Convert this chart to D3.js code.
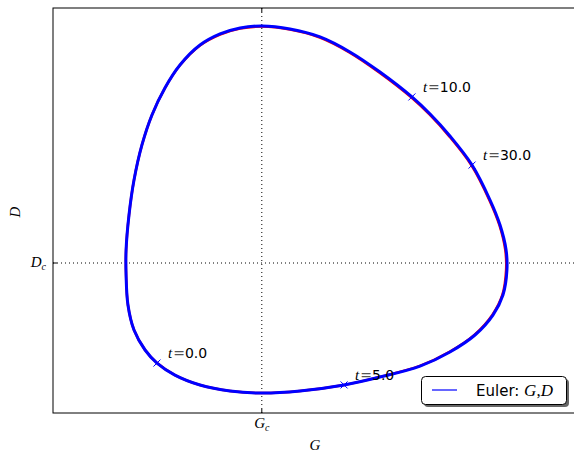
<!DOCTYPE html>
<html><head><meta charset="utf-8">
<script src="https://cdn.jsdelivr.net/npm/d3@7"></script>
<style>body{margin:0;background:#fff}svg{display:block}</style>
</head><body>
<svg id="c" width="574" height="454"></svg>
<script>
// ---- data (G, D in arbitrary units; Gc = Dc = 1) ----
const Gc = 1.0, Dc = 1.0;
const eulerG = [1.001,0.896,0.800,0.704,0.608,0.536,0.474,0.426,0.388,0.364,0.350,0.350,0.359,0.388,0.441,0.498,0.584,0.704,0.848,1.001,1.183,1.394,1.566,1.758,1.901,2.021,2.107,2.155,2.174,2.170,2.141,2.093,2.007,1.901,1.806,1.719,1.566,1.422,1.279,1.135];
const eulerD = [2.580,2.567,2.527,2.453,2.320,2.167,1.987,1.787,1.553,1.320,1.087,0.920,0.720,0.553,0.420,0.333,0.253,0.187,0.147,0.133,0.147,0.187,0.240,0.313,0.407,0.520,0.653,0.787,0.953,1.087,1.253,1.420,1.653,1.847,1.993,2.107,2.273,2.407,2.507,2.560];
const exactG = [1.001,0.896,0.800,0.704,0.608,0.536,0.474,0.426,0.388,0.364,0.350,0.350,0.359,0.388,0.441,0.498,0.584,0.704,0.848,1.001,1.183,1.394,1.566,1.757,1.899,2.018,2.104,2.152,2.170,2.166,2.138,2.090,2.004,1.898,1.803,1.717,1.564,1.421,1.278,1.135];
const exactD = [2.576,2.563,2.523,2.450,2.318,2.166,1.987,1.787,1.553,1.320,1.087,0.920,0.720,0.553,0.420,0.333,0.253,0.187,0.147,0.133,0.147,0.187,0.241,0.314,0.408,0.521,0.654,0.787,0.953,1.087,1.252,1.419,1.651,1.844,1.990,2.103,2.269,2.403,2.503,2.556];
const markT = ["0.0","5.0","10.0","30.0"];
const markG = [0.498,1.394,1.719,2.007];
const markD = [0.333,0.187,2.107,1.653];

const svg = d3.select("#c");
const L=53, T=8, R=580, B=413;
const x = d3.scaleLinear().domain([0,2.5]).range([L,L+2.5*208.8]);
const y = d3.scaleLinear().domain([0,2.7]).range([B,T]);

svg.append("defs").append("clipPath").attr("id","pc").append("rect")
  .attr("x",L).attr("y",T).attr("width",R-L).attr("height",B-T);
const g = svg.append("g").attr("clip-path","url(#pc)");

// dotted reference lines
g.append("line").attr("x1",x(Gc)).attr("x2",x(Gc)).attr("y1",T).attr("y2",B)
 .attr("stroke","#000").attr("stroke-width",1).attr("stroke-dasharray","1,3");
g.append("line").attr("x1",L).attr("x2",R).attr("y1",y(Dc)).attr("y2",y(Dc))
 .attr("stroke","#000").attr("stroke-width",1).attr("stroke-dasharray","1,3");

const line = d3.line().x(d=>x(d[0])).y(d=>y(d[1])).curve(d3.curveCatmullRomClosed);
g.append("path").datum(exactG.map((v,i)=>[v,exactD[i]])).attr("d",line)
 .attr("fill","none").attr("stroke","#ff0000").attr("stroke-width",2.5);
g.append("path").datum(eulerG.map((v,i)=>[v,eulerD[i]])).attr("d",line)
 .attr("fill","none").attr("stroke","#0000ff").attr("stroke-width",3);

// markers and labels
markT.forEach((t,i)=>{
  const px=x(markG[i]), py=y(markD[i]), s=3.5;
  g.append("path").attr("d",`M${px-s},${py-s}L${px+s},${py+s}M${px-s},${py+s}L${px+s},${py-s}`)
   .attr("stroke","#0000ff").attr("stroke-width",1);
  const tx = svg.append("text").attr("x",px+11).attr("y",py-5).attr("font-size",14);
  tx.append("tspan").attr("font-family","Liberation Serif").attr("font-style","italic").attr("font-size",15).text("t");
  tx.append("tspan").attr("font-family","DejaVu Sans").attr("fill","#555").attr("dx",1).text("=");
  tx.append("tspan").attr("font-family","DejaVu Sans").text(t);
});

// frame
svg.append("rect").attr("x",L).attr("y",T).attr("width",R-L).attr("height",B-T)
 .attr("fill","none").attr("stroke","#000").attr("stroke-width",1);

// ticks (inward)
const tk = svg.append("g").attr("stroke","#000").attr("stroke-width",1);
tk.append("line").attr("x1",x(Gc)).attr("x2",x(Gc)).attr("y1",B).attr("y2",B-4);
tk.append("line").attr("x1",x(Gc)).attr("x2",x(Gc)).attr("y1",T).attr("y2",T+4);
tk.append("line").attr("x1",L).attr("x2",L+4).attr("y1",y(Dc)).attr("y2",y(Dc));

// tick labels
const gcl = svg.append("text").attr("x",x(Gc)).attr("y",428).attr("text-anchor","middle")
  .attr("font-family","Liberation Serif").attr("font-style","italic").attr("font-size",15);
gcl.append("tspan").text("G");
gcl.append("tspan").attr("font-size",10).attr("dy",3).text("c");
const dcl = svg.append("text").attr("x",46).attr("y",y(Dc)+4).attr("text-anchor","end")
  .attr("font-family","Liberation Serif").attr("font-style","italic").attr("font-size",15);
dcl.append("tspan").text("D");
dcl.append("tspan").attr("font-size",10).attr("dy",3).text("c");

// axis labels
svg.append("text").attr("x",315).attr("y",450).attr("text-anchor","middle")
 .attr("font-family","Liberation Serif").attr("font-style","italic").attr("font-size",15).text("G");
svg.append("text").attr("transform","translate(20,212) rotate(-90)").attr("text-anchor","middle")
 .attr("font-family","Liberation Serif").attr("font-style","italic").attr("font-size",15).text("D");

// legend
const lg = svg.append("g");
lg.append("rect").attr("x",424).attr("y",379).attr("width",145).attr("height",28).attr("rx",4)
  .attr("fill","#000").attr("opacity",0.6);
lg.append("rect").attr("x",421.5).attr("y",376.5).attr("width",145).attr("height",28).attr("rx",4)
  .attr("fill","#fff").attr("stroke","#000").attr("stroke-width",1);
lg.append("line").attr("x1",432).attr("x2",457).attr("y1",390).attr("y2",390)
  .attr("stroke","#0000ff").attr("stroke-width",1.2);
const lt = lg.append("text").attr("x",476).attr("y",396).attr("font-size",15);
lt.append("tspan").attr("font-family","DejaVu Sans").text("Euler: ");
lt.append("tspan").attr("font-family","Liberation Serif").attr("font-style","italic").attr("font-size",17).text("G");
lt.append("tspan").attr("font-family","Liberation Serif").attr("font-size",17).text(",");
lt.append("tspan").attr("font-family","Liberation Serif").attr("font-style","italic").attr("font-size",17).text("D");
</script>
</body></html>
